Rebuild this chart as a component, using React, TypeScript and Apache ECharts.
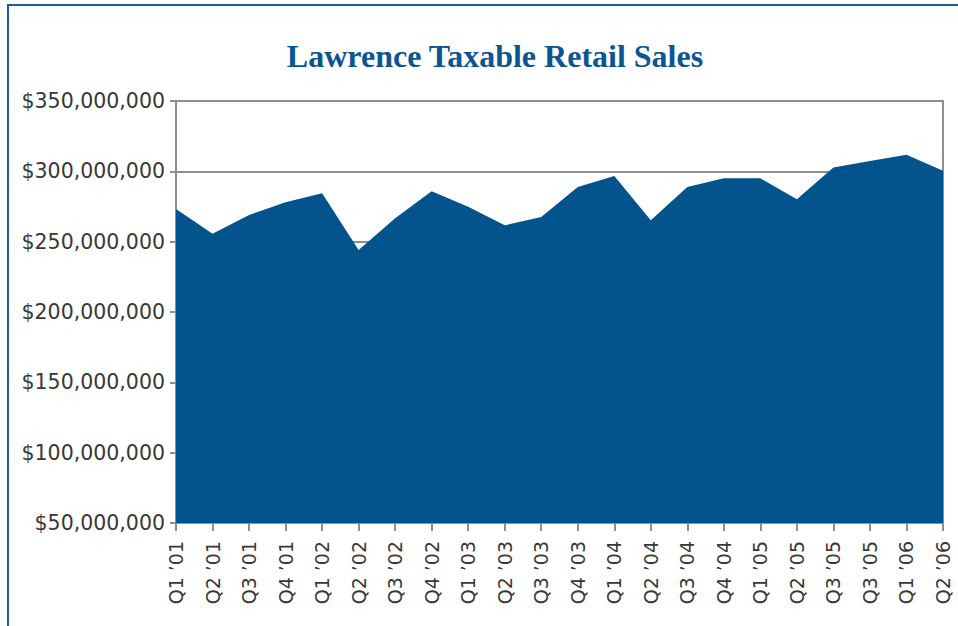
import React, { useEffect, useRef } from "react";
import * as echarts from "echarts";

const categories = [
  "Q1 \u201901", "Q2 \u201901", "Q3 \u201901", "Q4 \u201901",
  "Q1 \u201902", "Q2 \u201902", "Q3 \u201902", "Q4 \u201902",
  "Q1 \u201903", "Q2 \u201903", "Q3 \u201903", "Q4 \u201903",
  "Q1 \u201904", "Q2 \u201904", "Q3 \u201904", "Q4 \u201904",
  "Q1 \u201905", "Q2 \u201905", "Q3 \u201905", "Q3 \u201905",
  "Q1 \u201906", "Q2 \u201906",
];

const sales = [
  273200000, 255700000, 269000000, 278000000,
  284400000, 244000000, 266600000, 285800000,
  274900000, 261600000, 267500000, 288800000,
  296700000, 265200000, 288800000, 295000000,
  295000000, 280100000, 302800000, 307300000,
  311800000, 300400000,
];

const yMin = 50000000;
const yMax = 350000000;
const yStep = 50000000;

const titleText = "Lawrence Taxable Retail Sales";

function fmtMoney(v: number): string {
  return "$" + Math.round(v).toString().replace(/\B(?=(\d{3})+(?!\d))/g, ",");
}

export default function App() {
  const ref = useRef<HTMLDivElement>(null);
  useEffect(() => {
    if (!ref.current) return;
    const chart = echarts.init(ref.current, undefined, { renderer: "svg" });
    const axisGray = "#8e8e8e";
    chart.setOption({
      animation: false,
      backgroundColor: "#ffffff",
      title: {
        text: titleText,
        left: 490,
        textAlign: "center",
        top: 35,
        textStyle: {
          fontFamily: "Liberation Serif",
          fontWeight: "bold",
          fontSize: 32,
          color: "#0c5592",
        },
      },
      graphic: [
        {
          type: "line",
          shape: { x1: 8, y1: 5, x2: 958, y2: 5 },
          style: { stroke: "#1d5e9a", lineWidth: 2 },
        },
        {
          type: "line",
          shape: { x1: 8, y1: 4, x2: 8, y2: 626 },
          style: { stroke: "#1d5e9a", lineWidth: 2 },
        },
      ],
      grid: {
        left: 176,
        right: 15,
        top: 101,
        bottom: 103,
        show: true,
        borderColor: axisGray,
        borderWidth: 2,
        backgroundColor: "transparent",
      },
      xAxis: {
        type: "category",
        data: categories,
        boundaryGap: false,
        axisLine: { show: true, lineStyle: { color: axisGray, width: 2 } },
        axisTick: {
          show: true,
          alignWithLabel: true,
          length: 8,
          lineStyle: { color: axisGray, width: 2 },
        },
        axisLabel: {
          rotate: 90,
          interval: 0,
          margin: 18,
          fontFamily: "DejaVu Sans",
          fontSize: 19,
          color: "#383838",
        },
        splitLine: { show: false },
      },
      yAxis: {
        type: "value",
        min: yMin,
        max: yMax,
        interval: yStep,
        axisLine: { show: true, lineStyle: { color: axisGray, width: 2 } },
        axisTick: {
          show: true,
          length: 6,
          lineStyle: { color: axisGray, width: 2 },
        },
        axisLabel: {
          margin: 11,
          fontFamily: "DejaVu Sans",
          fontSize: 20.5,
          color: "#383838",
          formatter: (v: number) => fmtMoney(v),
        },
        splitLine: { show: true, lineStyle: { color: axisGray, width: 2 } },
      },
      series: [
        {
          type: "line",
          data: sales,
          symbol: "none",
          lineStyle: { width: 0 },
          areaStyle: { color: "#03538d", opacity: 1, origin: "start" },
          z: 3,
        },
      ],
    });
    return () => chart.dispose();
  }, []);
  return (
    <div
      ref={ref}
      style={{ position: "fixed", left: 0, top: 0, width: 958, height: 626 }}
    />
  );
}
